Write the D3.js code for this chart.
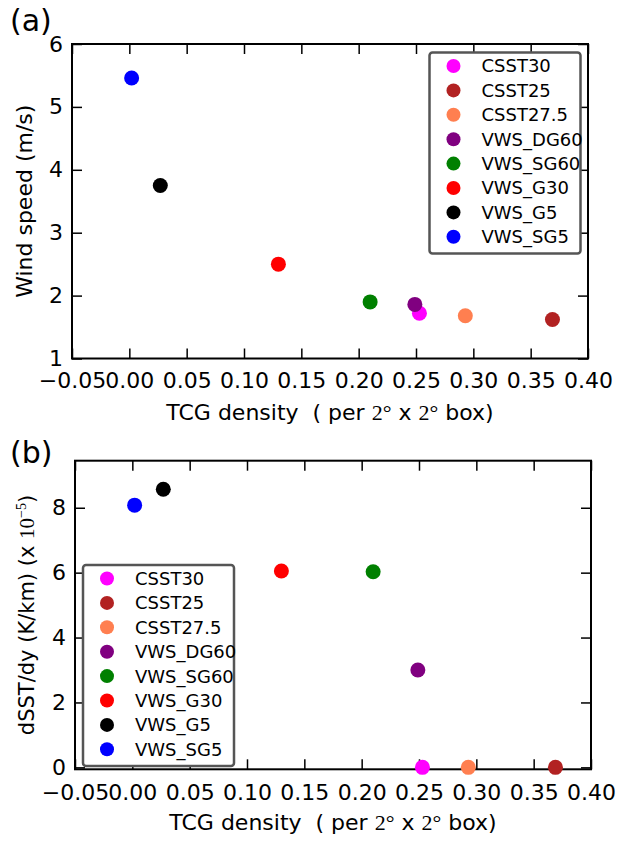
<!DOCTYPE html>
<html>
<head>
<meta charset="utf-8">
<script src="https://cdn.jsdelivr.net/npm/d3@7"></script>
<style>
  body { margin: 0; background: #fff; }
  text { font-family: "DejaVu Sans", sans-serif; fill: #000; }
  .math { font-family: "Liberation Serif", "DejaVu Serif", serif; }
</style>
</head>
<body>
<div id="chart"></div>
<script>
// experiments, in legend order
const series = ["CSST30", "CSST25", "CSST27.5", "VWS_DG60", "VWS_SG60", "VWS_G30", "VWS_G5", "VWS_SG5"];
const colors = ["#ff00ff", "#b22222", "#ff7f50", "#800080", "#008000", "#ff0000", "#000000", "#0000ff"];
const tcgDensity = [0.253, 0.369, 0.293, 0.249, 0.210, 0.130, 0.027, 0.002];
const windSpeed = [1.72, 1.62, 1.68, 1.86, 1.90, 2.50, 3.75, 5.46];
const dsstDy = [0, 0, 0, 3.0, 6.03, 6.05, 8.57, 8.08];

const xTicks = [-0.05, 0.00, 0.05, 0.10, 0.15, 0.20, 0.25, 0.30, 0.35, 0.40];
const windTicks = [1, 2, 3, 4, 5, 6];
const dsstTicks = [0, 2, 4, 6, 8];

const W = 625, H = 845;
const svg = d3.select("#chart").append("svg")
    .attr("width", W)
    .attr("height", H);
svg.append("rect").attr("width", W).attr("height", H).attr("fill", "#fff");

function panel(opts) {
    const {left, right, top, bottom, yDomain, yTicks, yValues, legendX, legendY, letter, letterY} = opts;

    const x = d3.scaleLinear().domain([-0.05, 0.40]).range([left, right]);
    const y = d3.scaleLinear().domain(yDomain).range([bottom, top]);
    const g = svg.append("g");

    const fmt = d3.format(".2f");

    g.append("g")
        .attr("transform", `translate(0, ${bottom})`)
        .call(d3.axisBottom(x).tickValues(xTicks).tickSize(-10).tickPadding(opts.xPad).tickFormat(fmt))
        .call(ax => ax.select(".domain").remove())
        .call(ax => ax.selectAll("text").attr("font-size", 22).attr("font-family", "DejaVu Sans").attr("fill", "#000"));

    g.append("g")
        .attr("transform", `translate(0, ${top})`)
        .call(d3.axisTop(x).tickValues(xTicks).tickSize(-10).tickFormat(""))
        .call(ax => ax.select(".domain").remove());

    g.append("g")
        .attr("transform", `translate(${left}, 0)`)
        .call(d3.axisLeft(y).tickValues(yTicks).tickSize(-10).tickPadding(9).tickFormat(d3.format("d")))
        .call(ax => ax.select(".domain").remove())
        .call(ax => ax.selectAll("text").attr("font-size", 22).attr("font-family", "DejaVu Sans").attr("fill", "#000"));

    g.append("g")
        .attr("transform", `translate(${right}, 0)`)
        .call(d3.axisRight(y).tickValues(yTicks).tickSize(-10).tickFormat(""))
        .call(ax => ax.select(".domain").remove());

    g.selectAll(".tick line").attr("stroke", "#000").attr("stroke-width", 1.5);

    g.append("rect")
        .attr("x", left).attr("y", top)
        .attr("width", right - left).attr("height", bottom - top)
        .attr("fill", "none").attr("stroke", "#000").attr("stroke-width", 2);

    // points
    g.append("g").selectAll("circle")
        .data(series)
        .enter().append("circle")
        .attr("cx", (d, i) => x(tcgDensity[i]))
        .attr("cy", (d, i) => y(yValues[i]))
        .attr("r", 7.5)
        .attr("fill", (d, i) => colors[i]);

    // x label
    const xl = g.append("text")
        .attr("x", (left + right) / 2)
        .attr("y", bottom + 61)
        .attr("text-anchor", "middle")
        .attr("font-size", 22);
    xl.append("tspan").text("TCG density\u00a0\u00a0( per ");
    xl.append("tspan").attr("class", "math").text("2\u00b0");
    xl.append("tspan").text(" x ");
    xl.append("tspan").attr("class", "math").text("2\u00b0");
    xl.append("tspan").text(" box)");

    // panel letter
    g.append("text")
        .attr("x", 10)
        .attr("y", letterY)
        .attr("font-size", 30)
        .text(letter);

    // legend
    const lg = g.append("g").attr("transform", `translate(${legendX}, ${legendY})`);
    lg.append("rect")
        .attr("width", 151).attr("height", 201)
        .attr("rx", 3)
        .attr("fill", "#fff")
        .attr("stroke", "#555").attr("stroke-width", 2.5);
    const row = lg.selectAll(".row")
        .data(series)
        .enter().append("g")
        .attr("class", "row")
        .attr("transform", (d, i) => `translate(0, ${13.5 + i * 24.4})`);
    row.append("circle")
        .attr("cx", 24)
        .attr("r", 7)
        .attr("fill", (d, i) => colors[i]);
    row.append("text")
        .attr("x", 52)
        .attr("dy", "0.36em")
        .attr("font-size", 18)
        .text(d => d);

    return {x, y, g};
}

const a = panel({
    left: 72, right: 588, top: 44, bottom: 358.5,
    yDomain: [1, 6], yTicks: windTicks, yValues: windSpeed,
    legendX: 429.5, legendY: 52.5, letter: "(a)", letterY: 31, xPad: 14
});
a.g.append("text")
    .attr("transform", `translate(32, ${(44 + 358.5) / 2}) rotate(-90)`)
    .attr("text-anchor", "middle")
    .attr("font-size", 22)
    .text("Wind speed (m/s)");

const b = panel({
    left: 75, right: 591, top: 460.7, bottom: 769.3,
    yDomain: [-0.06, 9.45], yTicks: dsstTicks, yValues: dsstDy,
    legendX: 83, legendY: 565, letter: "(b)", letterY: 463, xPad: 15
});
const yl = b.g.append("text")
    .attr("transform", `translate(34, ${(460.7 + 769.3) / 2}) rotate(-90)`)
    .attr("text-anchor", "middle")
    .attr("font-size", 21);
yl.append("tspan").text("dSST/dy (K/km) (x ");
yl.append("tspan").attr("class", "math").text("10");
yl.append("tspan").attr("class", "math").attr("font-size", 14).attr("dy", -8).text("\u22125");
yl.append("tspan").attr("dy", 8).text(")");
</script>
</body>
</html>
